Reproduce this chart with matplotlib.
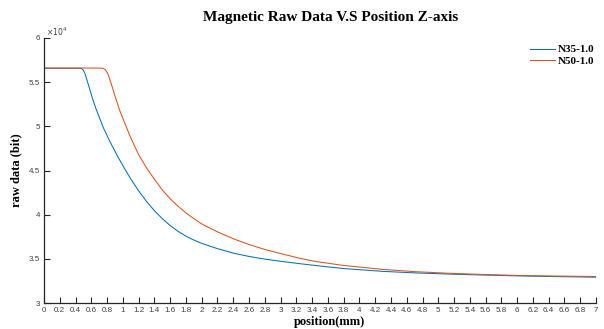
import matplotlib
matplotlib.use("Agg")
import matplotlib.pyplot as plt
from matplotlib.ticker import FuncFormatter

# position (mm) and raw data (bit)
x_n35 = [0, 0.2, 0.4, 0.45, 0.475, 0.5, 0.52, 0.55, 0.58, 0.62, 0.665, 0.75, 0.834,
         0.94, 1.0, 1.1, 1.2, 1.3, 1.4, 1.5, 1.6, 1.7, 1.8, 1.9, 2.0, 2.2, 2.4, 2.6,
         2.8, 3.0, 3.245, 3.457, 3.8, 4.3, 4.7, 5.15, 5.6, 6.0, 6.5, 7.0]
y_n35 = [56580, 56580, 56580, 56575, 56550, 56350, 55950, 55100, 54200, 53000, 51850,
         49900, 48300, 46500, 45550, 44050, 42700, 41500, 40450, 39550, 38770, 38110,
         37570, 37130, 36750, 36150, 35650, 35270, 34970, 34720, 34450, 34230, 33900,
         33580, 33410, 33270, 33160, 33070, 32990, 32920]

x_n50 = [0, 0.2, 0.4, 0.6, 0.72, 0.75, 0.78, 0.81, 0.85, 0.9, 0.96, 1.0, 1.1, 1.2,
         1.3, 1.4, 1.5, 1.6, 1.7, 1.8, 1.9, 2.0, 2.2, 2.4, 2.6, 2.8, 3.0, 3.245,
         3.457, 3.8, 4.3, 4.7, 5.15, 5.6, 6.0, 6.5, 7.0]
y_n50 = [56600, 56600, 56600, 56600, 56590, 56560, 56400, 55950, 54900, 53450, 51800,
         50900, 48700, 46800, 45300, 44000, 42800, 41800, 40950, 40200, 39550, 38950,
         38050, 37280, 36620, 36060, 35600, 35060, 34680, 34250, 33800, 33550, 33360,
         33220, 33120, 33050, 33000]

legend_labels = ["N35-1.0", "N50-1.0"]
xticks = [i * 0.2 for i in range(36)]
yticks = [30000, 35000, 40000, 45000, 50000, 55000, 60000]

W, H = 604, 329
fig = plt.figure(figsize=(W / 100, H / 100), dpi=100)
ax = fig.add_axes([44 / W, 1 - 303 / H, (596 - 44) / W, (303 - 38) / H])

blue = "#0072BD"
orange = "#D95319"
ax.plot(x_n35, y_n35, color=blue, lw=0.75, label=legend_labels[0])
ax.plot(x_n50, y_n50, color=orange, lw=0.75, label=legend_labels[1])

ax.set_xlim(0, 7)
ax.set_ylim(30000, 60000)
ax.set_xticks(xticks)
ax.set_yticks(yticks)
ax.xaxis.set_major_formatter(FuncFormatter(lambda v, p: "%g" % round(v, 2)))
ax.yaxis.set_major_formatter(FuncFormatter(lambda v, p: "%g" % (v / 1e4)))

for s in ["top", "right"]:
    ax.spines[s].set_visible(False)
for s in ["left", "bottom"]:
    ax.spines[s].set_color("#262626")
    ax.spines[s].set_linewidth(0.9)
ax.tick_params(direction="in", length=4, width=0.8, colors="#262626",
               labelsize=5.8, pad=3)
for lab in ax.get_xticklabels() + ax.get_yticklabels():
    lab.set_fontfamily("Liberation Sans")
    lab.set_color("#404040")

ax.text(0.003, 1.0, r"$\times10^4$", transform=ax.transAxes, fontsize=5.5,
        color="#404040", ha="left", va="bottom", family="Liberation Sans")

serif = "Liberation Serif"
fig.text(331 / W, 1 - 17 / H, "Magnetic Raw Data V.S Position Z-axis",
         ha="center", va="center", fontsize=11, fontweight="bold", family=serif)
fig.text(330 / W, 1 - 322 / H, "position(mm)", ha="center", va="center",
         fontsize=9, fontweight="bold", family=serif)
fig.text(16 / W, 1 - 170 / H, "raw data (bit)", ha="center", va="center",
         rotation=90, fontsize=9, fontweight="bold", family=serif)

leg = ax.legend(loc="upper right", bbox_to_anchor=(1.01, 1.0), frameon=False,
                prop={"family": serif, "weight": "bold", "size": 8},
                handlelength=2.2, handletextpad=0.3, labelspacing=0.15,
                borderaxespad=0.2)

fig.savefig("out.png", dpi=100)
